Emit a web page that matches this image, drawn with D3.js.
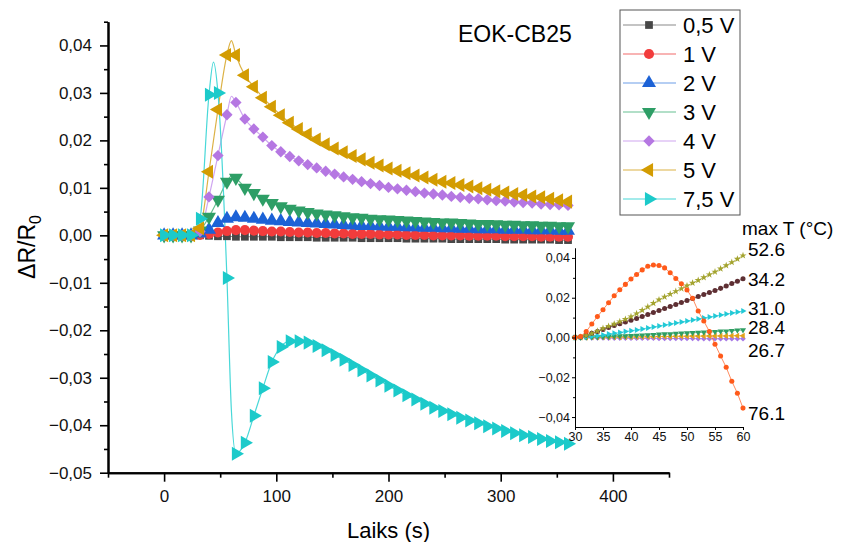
<!DOCTYPE html>
<meta charset="utf-8">
<style>
  body { margin: 0; background: #fff; }
  svg { font-family: "Liberation Sans", Arial, sans-serif; }
  .axis path, .axis line { stroke: #000; }
  .main-axis path { stroke-width: 2px; }
  .main-axis line { stroke-width: 1.6px; }
  .main-axis text { font-size: 17px; fill: #111; font-family: "Liberation Sans", Arial, sans-serif; }
  .inset-axis path, .inset-axis line { stroke-width: 1px; }
  .inset-axis text { font-size: 12.5px; fill: #111; font-family: "Liberation Sans", Arial, sans-serif; }
</style>
<svg width="843" height="542"></svg>
<script src="https://d3js.org/d3.v7.min.js"></script>
<script>

  // ---- main chart data (marker points, every 8 s) ----
  var times = [0, 8, 16, 24, 32, 40, 48, 56, 64, 72, 80, 88, 96, 104, 112, 120, 128, 136, 144, 152,
    160, 168, 176, 184, 192, 200, 208, 216, 224, 232, 240, 248, 256, 264, 272, 280, 288, 296, 304, 312,
    320, 328, 336, 344, 352, 360];

  var v05 = [0, 0, 0, 0, 0, -0.0001, -0.0002, -0.0002, -0.0003, -0.0003,
    -0.0003, -0.0003, -0.0003, -0.0004, -0.0004, -0.0004, -0.0004, -0.0005, -0.0005, -0.0005,
    -0.0005, -0.0005, -0.0006, -0.0006, -0.0006, -0.0006, -0.0006, -0.0007, -0.0007, -0.0007,
    -0.0007, -0.0007, -0.0008, -0.0008, -0.0008, -0.0008, -0.0008, -0.0008, -0.0009, -0.0009,
    -0.0009, -0.0009, -0.0009, -0.0009, -0.001, -0.001];
  var v1 = [0, 0, 0, 0, 0.0001, 0.0003, 0.0006, 0.0009, 0.0011, 0.0011,
    0.001, 0.0009, 0.0008, 0.0008, 0.0007, 0.0006, 0.0006, 0.0005, 0.0005, 0.0004,
    0.0004, 0.0003, 0.0003, 0.0003, 0.0002, 0.0002, 0.0002, 0.0001, 0.0001, 0.0001,
    0, 0, 0, 0, -0.0001, -0.0001, -0.0001, -0.0001, -0.0002, -0.0002,
    -0.0002, -0.0002, -0.0003, -0.0003, -0.0003, -0.0003];
  var v2 = [0, 0, 0, 0, 0.0004, 0.0012, 0.0026, 0.0035, 0.0038, 0.0037,
    0.0035, 0.0033, 0.0031, 0.003, 0.0028, 0.0027, 0.0026, 0.0025, 0.0024, 0.0023,
    0.0022, 0.0021, 0.002, 0.002, 0.0019, 0.0018, 0.0018, 0.0017, 0.0017, 0.0016,
    0.0016, 0.0015, 0.0015, 0.0014, 0.0014, 0.0013, 0.0013, 0.0013, 0.0012, 0.0012,
    0.0012, 0.0011, 0.0011, 0.0011, 0.001, 0.001];
  var v3 = [0, 0, 0, 0, 0.001, 0.0039, 0.0075, 0.0113, 0.0121, 0.01,
    0.0089, 0.0077, 0.0068, 0.0061, 0.0056, 0.0052, 0.0049, 0.0046, 0.0044, 0.0042,
    0.004, 0.0038, 0.0037, 0.0035, 0.0034, 0.0033, 0.0032, 0.0031, 0.003, 0.0029,
    0.0028, 0.0027, 0.0027, 0.0026, 0.0025, 0.0024, 0.0024, 0.0023, 0.0022, 0.0022,
    0.0021, 0.0021, 0.002, 0.002, 0.0019, 0.0019];
  var v4 = [0, 0, 0, 0, 0.0008, 0.0081, 0.0168, 0.0254, 0.028, 0.0245,
    0.0224, 0.0207, 0.0189, 0.0176, 0.0166, 0.0157, 0.0149, 0.0142, 0.0135, 0.0129,
    0.0123, 0.0118, 0.0113, 0.0109, 0.0105, 0.0101, 0.0098, 0.0095, 0.0092, 0.0089,
    0.0087, 0.0085, 0.0082, 0.008, 0.0078, 0.0077, 0.0075, 0.0073, 0.0072, 0.007,
    0.0069, 0.0068, 0.0066, 0.0065, 0.0064, 0.0063];
  var v5 = [0, 0, 0, 0, 0.0015, 0.0134, 0.0265, 0.038, 0.038, 0.0337,
    0.0313, 0.029, 0.0271, 0.0253, 0.0237, 0.0224, 0.0213, 0.0202, 0.0192, 0.0183,
    0.0175, 0.0167, 0.016, 0.0153, 0.0147, 0.0141, 0.0136, 0.0131, 0.0126, 0.0122,
    0.0117, 0.0113, 0.011, 0.0106, 0.0103, 0.0099, 0.0096, 0.0093, 0.009, 0.0087,
    0.0085, 0.0082, 0.008, 0.0077, 0.0074, 0.0071];
  var v75 = [0, 0, 0, 0, 0.0035, 0.0296, 0.030, -0.009, -0.046, -0.0437,
    -0.038, -0.0322, -0.0267, -0.0235, -0.0223, -0.0223, -0.0226, -0.0233, -0.0242, -0.0252,
    -0.0262, -0.0273, -0.0284, -0.0295, -0.0306, -0.0317, -0.0327, -0.0337, -0.0346, -0.0355,
    -0.0363, -0.037, -0.0377, -0.0384, -0.039, -0.0396, -0.0402, -0.0407, -0.0412, -0.0417,
    -0.0421, -0.0425, -0.0429, -0.0433, -0.0436, -0.0439];

  // line-only points between markers (peaks of the fast transient)
  var peak3 = [[60, 0.0125]];
  var peak4 = [[60, 0.0293]];
  var peak5 = [[60, 0.041]];
  var peak75 = [[44, 0.0365], [60, -0.037]];

  var labels = ["0,5 V", "1 V", "2 V", "3 V", "4 V", "5 V", "7,5 V"];
  var xTicks = [0, 100, 200, 300, 400];
  var yTicks = [-0.05, -0.04, -0.03, -0.02, -0.01, 0, 0.01, 0.02, 0.03, 0.04];

  // ---- inset data (30..60 s, every 1 s) ----
  var insetTimes = [30, 31, 32, 33, 34, 35, 36, 37, 38, 39, 40, 41, 42, 43, 44, 45, 46, 47, 48, 49,
    50, 51, 52, 53, 54, 55, 56, 57, 58, 59, 60];
  var in75 = [0, 0.0005, 0.003, 0.0068, 0.0105, 0.014, 0.0175, 0.021, 0.024, 0.0267,
    0.0294, 0.0317, 0.034, 0.0358, 0.0365, 0.0362, 0.035, 0.0326, 0.0297, 0.027,
    0.0239, 0.0197, 0.0133, 0.0083, 0.003, -0.0034, -0.0093, -0.015, -0.022, -0.028, -0.0355];
  var in5 = [0, 0.0003, 0.001, 0.002, 0.0032, 0.0046, 0.0057, 0.0068, 0.008, 0.0092,
    0.0105, 0.012, 0.0137, 0.0154, 0.0172, 0.019, 0.0204, 0.0218, 0.0232, 0.0246,
    0.026, 0.0274, 0.0288, 0.0302, 0.0316, 0.033, 0.0346, 0.0362, 0.0378, 0.0395, 0.0412];
  var in4 = [0, 0.0003, 0.0012, 0.0021, 0.003, 0.004, 0.005, 0.006, 0.0069, 0.0078,
    0.0087, 0.0096, 0.0106, 0.0116, 0.0126, 0.0136, 0.0146, 0.0156, 0.0166, 0.0176,
    0.0186, 0.0196, 0.0206, 0.0216, 0.0226, 0.0236, 0.0247, 0.0259, 0.0271, 0.0283, 0.0295];
  var in3 = [0, 0.0001, 0.0003, 0.0006, 0.0009, 0.0013, 0.0017, 0.0021, 0.0025, 0.003,
    0.0034, 0.0038, 0.0043, 0.0048, 0.0053, 0.0058, 0.0063, 0.0068, 0.0073, 0.0078,
    0.0083, 0.0088, 0.0093, 0.0098, 0.0103, 0.0108, 0.0113, 0.0118, 0.0123, 0.0128, 0.0133];
  var in2 = [0, 0, 0.0001, 0.0002, 0.0003, 0.0004, 0.0005, 0.0006, 0.0007, 0.0008,
    0.0009, 0.001, 0.0011, 0.0013, 0.0014, 0.0016, 0.0017, 0.0018, 0.002, 0.0021,
    0.0022, 0.0024, 0.0025, 0.0026, 0.0028, 0.0029, 0.0031, 0.0032, 0.0034, 0.0036, 0.0038];
  var in1 = [0, 0, 0, 0.0001, 0.0001, 0.0001, 0.0002, 0.0002, 0.0002, 0.0003,
    0.0003, 0.0003, 0.0004, 0.0004, 0.0004, 0.0005, 0.0005, 0.0005, 0.0006, 0.0006,
    0.0006, 0.0007, 0.0007, 0.0007, 0.0008, 0.0008, 0.0008, 0.0008, 0.0009, 0.0009, 0.0009];
  var in05 = [0, -0.0001, -0.0001, -0.0002, -0.0002, -0.0002, -0.0003, -0.0003, -0.0003, -0.0003,
    -0.0004, -0.0004, -0.0004, -0.0004, -0.0004, -0.0005, -0.0005, -0.0005, -0.0005, -0.0005,
    -0.0005, -0.0005, -0.0006, -0.0006, -0.0006, -0.0006, -0.0006, -0.0006, -0.0006, -0.0006, -0.0006];
  var maxT = ["26.7", "", "28.4", "31.0", "34.2", "52.6", "76.1"];
  var insetXTicks = [30, 35, 40, 45, 50, 55, 60];
  var insetYTicks = [-0.04, -0.02, 0, 0.02, 0.04];

  // ---- styling ----
  var markColor = ["#474747", "#f23c3c", "#1c62d6", "#2e9e66", "#b577e2", "#d39c02", "#1ccaca"];
  var lineColor = ["#8a8a8a", "#f26a6a", "#6c9ee8", "#66bf92", "#cfa6f0", "#dcb245", "#48d8d8"];
  var insetColor = ["#a678e6", "#e3a21a", "#2f9e63", "#22c9d6", "#5e2f33", "#a3a32e", "#ff5a1a"];
  var shapes = ["square", "circle", "up", "down", "diamond", "left", "right"];
  var insetShapes = ["diamond", "left", "down", "right", "circle", "star", "circle"];
  var labelNudge = [11, 0, -3, -3, 0, -6, 5];

  var series = [v05, v1, v2, v3, v4, v5, v75];
  var peaks = [[], [], [], peak3, peak4, peak5, peak75];
  var insetSeries = [in05, in1, in2, in3, in4, in5, in75];

  var svg = d3.select("svg");
  var fmt = d3.formatLocale({decimal: ",", thousands: " ", grouping: [3], currency: ["", ""], minus: "\u2212"}).format(".2f");

  function symbolPath(shape, size) {
    var type = d3.symbolTriangle, rot = 0;
    if (shape == "square") type = d3.symbolSquare;
    if (shape == "circle") type = d3.symbolCircle;
    if (shape == "star") type = d3.symbolStar;
    if (shape == "diamond") { type = d3.symbolSquare; rot = 45; }
    if (shape == "down") rot = 180;
    if (shape == "left") rot = -90;
    if (shape == "right") rot = 90;
    return { d: d3.symbol().type(type).size(size)(), rot: rot };
  }

  // ---- main chart ----
  var x = d3.scaleLinear().domain([-50, 450]).range([108, 669]);
  var y = d3.scaleLinear().domain([-0.05, 0.045]).range([472.7, 21.7]);

  var line = d3.line()
    .x(function(d) { return x(d[0]); })
    .y(function(d) { return y(d[1]); })
    .curve(d3.curveMonotoneX);

  var plot = svg.append("g");
  series.forEach(function(vals, i) {
    var pts = times.map(function(t, j) { return [t, vals[j]]; })
      .concat(peaks[i])
      .sort(function(a, b) { return a[0] - b[0]; });
    plot.append("path")
      .datum(pts)
      .attr("fill", "none")
      .attr("stroke", lineColor[i])
      .attr("stroke-width", 1.2)
      .attr("d", line);
  });
  series.forEach(function(vals, i) {
    var s = symbolPath(shapes[i], shapes[i] == "square" ? 60 : (shapes[i] == "diamond" ? 64 : (shapes[i] == "circle" ? 80 : 85)));
    plot.append("g").selectAll("path")
      .data(times.map(function(t, j) { return [t, vals[j]]; }))
      .enter().append("path")
      .attr("d", s.d)
      .attr("fill", markColor[i])
      .attr("transform", function(d) { return "translate(" + x(d[0]) + "," + y(d[1]) + ") rotate(" + s.rot + ")"; });
  });

  // axes
  svg.append("g")
    .attr("class", "axis main-axis")
    .attr("transform", "translate(0,472.7)")
    .call(d3.axisBottom(x).tickValues(xTicks).tickSize(9).tickPadding(8).tickSizeOuter(0));
  svg.append("g")
    .attr("class", "axis main-axis")
    .attr("transform", "translate(0,472.7)")
    .call(d3.axisBottom(x).tickValues([-50, 50, 150, 250, 350, 450]).tickSize(5).tickFormat("").tickSizeOuter(0));
  svg.append("g")
    .attr("class", "axis main-axis")
    .attr("transform", "translate(108,0)")
    .call(d3.axisLeft(y).tickValues(yTicks).tickSize(8).tickPadding(8).tickFormat(fmt).tickSizeOuter(0));
  svg.append("g")
    .attr("class", "axis main-axis")
    .attr("transform", "translate(108,0)")
    .call(d3.axisLeft(y).tickValues(yTicks.map(function(v) { return v + 0.005; })).tickSize(4).tickFormat("").tickSizeOuter(0));

  svg.append("text")
    .attr("x", 388.5)
    .attr("y", 538)
    .attr("text-anchor", "middle")
    .style("font-size", "22px")
    .text("Laiks (s)");

  var ylab = svg.append("text")
    .attr("transform", "translate(35,247) rotate(-90)")
    .attr("text-anchor", "middle")
    .style("font-size", "23px");
  ylab.append("tspan").text("\u0394R/R");
  ylab.append("tspan").attr("dy", 6).style("font-size", "16px").text("0");

  svg.append("text")
    .attr("x", 458)
    .attr("y", 42)
    .style("font-size", "23px")
    .text("EOK-CB25");

  // ---- legend ----
  var legend = svg.append("g");
  legend.append("rect")
    .attr("x", 620).attr("y", 10).attr("width", 120).attr("height", 205)
    .attr("fill", "#fff").attr("stroke", "#555").attr("stroke-width", 1);
  labels.forEach(function(lab, i) {
    var cy = 25 + i * 29;
    legend.append("line")
      .attr("x1", 623).attr("x2", 676).attr("y1", cy).attr("y2", cy)
      .attr("stroke", lineColor[i]).attr("stroke-width", 1.2);
    var s = symbolPath(shapes[i], shapes[i] == "square" ? 60 : (shapes[i] == "diamond" ? 64 : (shapes[i] == "circle" ? 80 : 85)));
    legend.append("path")
      .attr("d", s.d)
      .attr("fill", markColor[i])
      .attr("transform", "translate(649," + cy + ") rotate(" + s.rot + ")");
    legend.append("text")
      .attr("x", 683).attr("y", cy).attr("dy", "0.36em")
      .style("font-size", "22px")
      .text(lab);
  });

  // ---- inset ----
  var xi = d3.scaleLinear().domain([30, 60]).range([575, 743]);
  var yi = d3.scaleLinear().domain([-0.045, 0.045]).range([427, 248]);
  var lineI = d3.line()
    .x(function(d) { return xi(d[0]); })
    .y(function(d) { return yi(d[1]); });

  var inset = svg.append("g");
  insetSeries.forEach(function(vals, i) {
    var pts = insetTimes.map(function(t, j) { return [t, vals[j]]; });
    inset.append("path")
      .datum(pts)
      .attr("fill", "none")
      .attr("stroke", insetColor[i])
      .attr("stroke-opacity", 0.7)
      .attr("stroke-width", 1)
      .attr("d", lineI);
    var s = symbolPath(insetShapes[i], insetShapes[i] == "circle" ? 20 : 16);
    inset.append("g").selectAll("path")
      .data(pts)
      .enter().append("path")
      .attr("d", s.d)
      .attr("fill", insetColor[i])
      .attr("transform", function(d) { return "translate(" + xi(d[0]) + "," + yi(d[1]) + ") rotate(" + s.rot + ")"; });
    if (maxT[i]) {
      inset.append("text")
        .attr("x", 748)
        .attr("y", yi(vals[vals.length - 1]) + labelNudge[i])
        .attr("dy", "0.36em")
        .style("font-size", "19px")
        .text(maxT[i]);
    }
  });

  svg.append("g")
    .attr("class", "axis inset-axis")
    .attr("transform", "translate(0,427)")
    .call(d3.axisBottom(xi).tickValues(insetXTicks).tickSize(3).tickPadding(2).tickFormat(d3.format("d")).tickSizeOuter(0));
  svg.append("g")
    .attr("class", "axis inset-axis")
    .attr("transform", "translate(575,0)")
    .call(d3.axisLeft(yi).tickValues(insetYTicks).tickSize(3).tickPadding(2).tickFormat(fmt).tickSizeOuter(0));
  svg.append("g")
    .attr("class", "axis inset-axis")
    .attr("transform", "translate(575,0)")
    .call(d3.axisLeft(yi).tickValues([-0.03, -0.01, 0.01, 0.03]).tickSize(2).tickFormat("").tickSizeOuter(0));

  svg.append("text")
    .attr("x", 742)
    .attr("y", 228)
    .attr("dy", "0.36em")
    .style("font-size", "19px")
    .text("max T (\u00B0C)");

</script>
